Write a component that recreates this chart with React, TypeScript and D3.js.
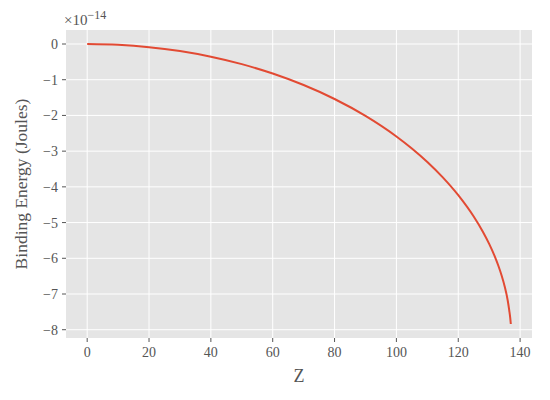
import React from "react";
import * as d3 from "d3";

const zValues = [0, 10, 20, 30, 40, 50, 60, 70, 80, 90, 100, 105, 110, 115, 120, 125, 128, 130, 132, 133, 134, 135, 136, 136.5, 136.8, 137];
const energyValues = [0, -0.022, -0.088, -0.199, -0.357, -0.564, -0.827, -1.149, -1.54, -2.013, -2.589, -2.926, -3.304, -3.735, -4.234, -4.832, -5.263, -5.597, -5.988, -6.215, -6.473, -6.781, -7.182, -7.464, -7.66, -7.84];
const xTicks = [0, 20, 40, 60, 80, 100, 120, 140];
const yTicks = [0, -1, -2, -3, -4, -5, -6, -7, -8];

const W = 550, H = 400;
const left = 66, right = 532, top = 30, bottom = 338;
const font = "'Liberation Serif', 'DejaVu Serif', serif";

export default function App() {
  const xMin = d3.min(zValues)!, xMax = d3.max(zValues)!;
  const yMin = d3.min(energyValues)!, yMax = d3.max(energyValues)!;
  const xPad = (xMax - xMin) * 0.05, yPad = (yMax - yMin) * 0.05;
  const x = d3.scaleLinear().domain([xMin - xPad, xMax + xPad]).range([left, right]);
  const y = d3.scaleLinear().domain([yMin - yPad, yMax + yPad]).range([bottom, top]);
  const data = zValues.map((z, i) => [z, energyValues[i]] as [number, number]);
  const line = d3.line<[number, number]>().x(d => x(d[0])).y(d => y(d[1])).curve(d3.curveMonotoneX);
  const fmt = (v: number) => (v < 0 ? "\u2212" + Math.abs(v) : String(v));
  return (
    <svg width={W} height={H} style={{ position: "absolute", left: 0, top: 0, background: "#fff" }}>
      <rect x={left} y={top} width={right - left} height={bottom - top} fill="#E5E5E5" />
      {xTicks.map(t => (
        <line key={"gx" + t} x1={x(t)} x2={x(t)} y1={top} y2={bottom} stroke="#fff" strokeWidth={1} />
      ))}
      {yTicks.map(t => (
        <line key={"gy" + t} x1={left} x2={right} y1={y(t)} y2={y(t)} stroke="#fff" strokeWidth={1} />
      ))}
      <path d={line(data)!} fill="none" stroke="#E24A33" strokeWidth={2} />
      {xTicks.map(t => (
        <g key={"tx" + t}>
          <line x1={x(t)} x2={x(t)} y1={bottom} y2={bottom + 4} stroke="#555" strokeWidth={1} />
          <text x={x(t)} y={bottom + 19} textAnchor="middle" fontFamily={font} fontSize={14} fill="#555">{fmt(t)}</text>
        </g>
      ))}
      {yTicks.map(t => (
        <g key={"ty" + t}>
          <line x1={left - 4} x2={left} y1={y(t)} y2={y(t)} stroke="#555" strokeWidth={1} />
          <text x={left - 8} y={y(t) + 5} textAnchor="end" fontFamily={font} fontSize={14} fill="#555">{fmt(t)}</text>
        </g>
      ))}
      <text x={64} y={25} fontFamily={font} fontSize={15} fill="#555">
        {"\u00d710"}<tspan dy={-6} fontSize={12}>{"\u221214"}</tspan>
      </text>
      <text x={(left + right) / 2} y={382} textAnchor="middle" fontFamily={font} fontSize={18} fill="#555">Z</text>
      <text transform={`translate(27, ${(top + bottom) / 2}) rotate(-90)`} textAnchor="middle" fontFamily={font} fontSize={17.5} fill="#555">Binding Energy (Joules)</text>
    </svg>
  );
}
